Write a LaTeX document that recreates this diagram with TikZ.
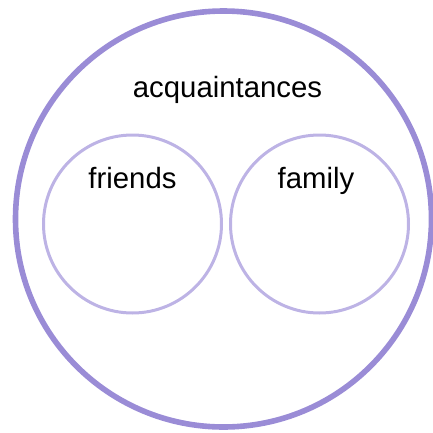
\documentclass[tikz,border=0pt]{standalone}
\usepackage{fontspec}
\setmainfont{Liberation Sans}
\usetikzlibrary{positioning,calc}
\definecolor{outerlilac}{HTML}{9A8CD6}
\definecolor{innerlilac}{HTML}{BDB3E5}

\begin{document}
\begin{tikzpicture}[x=0.75pt, y=-0.75pt,
  every node/.style={font=\fontsize{22}{26}\selectfont},
  setcircle/.style={draw=innerlilac, circle, inner sep=0pt, line width=2.25pt,
    minimum size=133.5pt},
  bigcircle/.style={draw=outerlilac, circle, inner sep=0pt, line width=4.2pt,
    minimum size=312pt},
  setlabel/.style={anchor=base, inner sep=0pt}]
\useasboundingbox (0,0) rectangle (433,433);
\node[bigcircle] (acquaintances) at (223.5,219) {};
\node[setcircle] (friends) at (132.5,224) {};
\node[setcircle] (family) at (319.5,224) {};
\node[setlabel] (acqlabel) at (227.5,97) {acquaintances};
\node[setlabel] (friendslabel) at (132.5,188) {friends};
\node[setlabel] (familylabel) at (316,188) {family};
\end{tikzpicture}
\end{document}
